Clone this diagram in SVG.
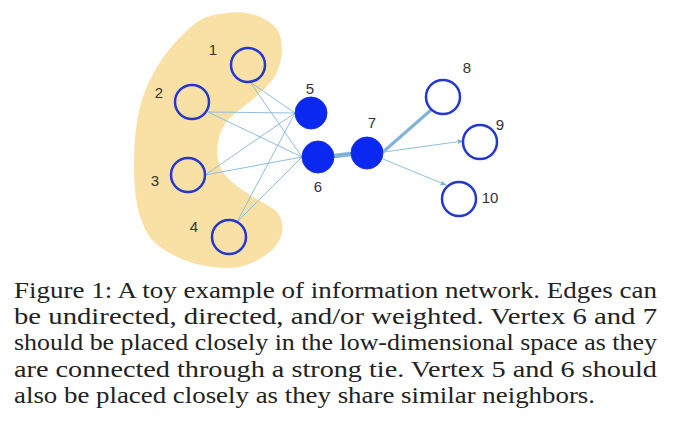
<svg xmlns="http://www.w3.org/2000/svg" width="683" height="422" viewBox="0 0 683 422">
<defs>
<style>
.open{fill:none;stroke:#2438d0;stroke-width:2.5}
.solid{fill:#0a28f0;stroke:#1a30e0;stroke-width:1}
.lbl{font-family:"Liberation Sans",Arial,sans-serif;font-size:15px;fill:#333}
.e{stroke:#8fbedd;stroke-width:1;fill:none}
.cap{font-family:"Liberation Serif","Times New Roman",serif;font-size:23px;fill:#222}
</style>
<marker id="arr" viewBox="0 0 10 10" refX="9" refY="5" markerWidth="6" markerHeight="6" orient="auto" markerUnits="userSpaceOnUse">
<path d="M0,1 L10,5 L0,9 z" fill="#7fb3d8"/>
</marker>
</defs>
<rect width="683" height="422" fill="#fff"/>
<path id="blob" d="M227,13 C245,10 265,16 276,28 C285,40 283,62 275,76 C265,92 245,104 230,118 C218,130 214,150 220,167 C228,185 255,197 275,210 C286,220 284,238 274,248 C262,260 245,268 228,268 C200,268 170,258 152,240 C138,222 134,195 134,167 C134,135 137,105 150,80 C162,55 180,35 197,22 C206,16 216,14 227,13 Z" fill="#f9e0a5"/>
<g id="connectors">
<line class="e" x1="250" y1="82" x2="295" y2="113"/>
<line class="e" x1="250" y1="82" x2="302" y2="157"/>
<line class="e" x1="208" y1="112" x2="295" y2="113"/>
<line class="e" x1="208" y1="112" x2="302" y2="157"/>
<line class="e" x1="205" y1="175" x2="295" y2="113"/>
<line class="e" x1="205" y1="175" x2="302" y2="157"/>
<line class="e" x1="237" y1="222" x2="295" y2="113"/>
<line class="e" x1="237" y1="222" x2="302" y2="157"/>
<line x1="334" y1="156" x2="351" y2="154" stroke="#7fb3d8" stroke-width="4.5"/>
<line x1="383" y1="152" x2="431" y2="110" stroke="#7fb3d8" stroke-width="3"/>
<line class="e" x1="384" y1="152" x2="463" y2="141" marker-end="url(#arr)"/>
<line class="e" x1="383" y1="159" x2="446" y2="185" marker-end="url(#arr)"/>
</g>
<g id="node1"><circle class="open" cx="248" cy="65" r="17"/><text class="lbl" x="213" y="55" text-anchor="middle">1</text></g>
<g id="node2"><circle class="open" cx="192" cy="102" r="17"/><text class="lbl" x="159" y="98" text-anchor="middle">2</text></g>
<g id="node3"><circle class="open" cx="188" cy="175" r="17"/><text class="lbl" x="155" y="186" text-anchor="middle">3</text></g>
<g id="node4"><circle class="open" cx="229" cy="237" r="17"/><text class="lbl" x="194" y="232" text-anchor="middle">4</text></g>
<g id="node5"><circle class="solid" cx="311" cy="113" r="16"/><text class="lbl" x="310" y="94" text-anchor="middle">5</text></g>
<g id="node6"><circle class="solid" cx="318" cy="157" r="16"/><text class="lbl" x="318" y="192" text-anchor="middle">6</text></g>
<g id="node7"><circle class="solid" cx="367" cy="153" r="16"/><text class="lbl" x="372" y="128" text-anchor="middle">7</text></g>
<g id="node8"><circle class="open" cx="443" cy="97" r="17"/><text class="lbl" x="467" y="73" text-anchor="middle">8</text></g>
<g id="node9"><circle class="open" cx="480" cy="142" r="17"/><text class="lbl" x="500" y="130" text-anchor="middle">9</text></g>
<g id="node10"><circle class="open" cx="459" cy="199" r="17"/><text class="lbl" x="490" y="203" text-anchor="middle">10</text></g>
<g id="caption">
<text class="cap" x="14" y="298" textLength="643" lengthAdjust="spacingAndGlyphs">Figure 1: A toy example of information network. Edges can</text>
<text class="cap" x="14" y="324" textLength="643" lengthAdjust="spacingAndGlyphs">be undirected, directed, and/or weighted.  Vertex 6 and 7</text>
<text class="cap" x="14" y="350" textLength="643" lengthAdjust="spacingAndGlyphs">should be placed closely in the low-dimensional space as they</text>
<text class="cap" x="14" y="377" textLength="643" lengthAdjust="spacingAndGlyphs">are connected through a strong tie.  Vertex 5 and 6 should</text>
<text class="cap" x="14" y="403" textLength="581" lengthAdjust="spacingAndGlyphs">also be placed closely as they share similar neighbors.</text>
</g>
</svg>
